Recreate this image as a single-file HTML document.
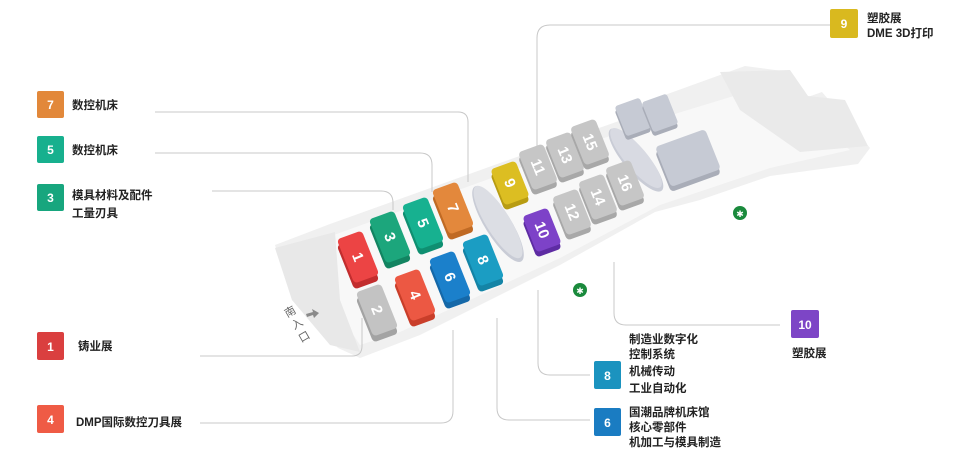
<!DOCTYPE html>
<html><head><meta charset="utf-8"><style>
html,body{margin:0;padding:0;background:#fff;}
svg{display:block;}
.t{font-family:"Liberation Sans","Noto Sans CJK SC",sans-serif;font-weight:bold;font-size:11.5px;fill:#222;}
.n{font-family:"Liberation Sans",sans-serif;font-weight:bold;font-size:12px;fill:#fff;text-anchor:middle;}
.bn{font-family:"Liberation Sans",sans-serif;font-weight:bold;font-size:15px;fill:#fff;text-anchor:middle;}
.ln{fill:none;stroke:#c8c8c8;stroke-width:1;}
</style></head><body>
<svg width="960" height="467" viewBox="0 0 960 467" xmlns="http://www.w3.org/2000/svg">
<rect width="960" height="467" fill="#fff"/>
<!-- floor -->
<path d="M275,245 L330,224 L500,163 L650,110 L662,96 L745,66 L790,72 L805,98 L822,92 L870,148 L858,164 L770,176 L700,200 L655,212 L560,265 L470,310 L420,335 L360,358 L338,348 L292,300 Z" fill="#f0f0f0"/>
<path d="M320,240 L500,175 L655,120 L760,88 L800,110 L850,150 L770,168 L660,205 L560,258 L470,300 L400,332 L360,345 L330,300 Z" fill="#f8f8f8"/>
<path d="M720,72 L790,70 L808,96 L845,100 L868,146 L800,152 L740,110 Z" fill="#eaeaea"/>
<path d="M275,248 L335,232 L340,300 L360,352 L330,345 L292,300 Z" fill="#e8e8e8"/>
<!-- connectors -->
<path class="ln" d="M155,112 H458 Q468,112 468,122 V182"/>
<path class="ln" d="M155,153 H420 Q432,153 432,165 V192"/>
<path class="ln" d="M212,191 H381 Q393,191 393,203 V210"/>
<path class="ln" d="M200,356 H352 Q362,356 362,346 V318"/>
<path class="ln" d="M200,423 H441 Q453,423 453,411 V330"/>
<path class="ln" d="M590,375 H550 Q538,375 538,363 V290"/>
<path class="ln" d="M590,420 H509 Q497,420 497,408 V318"/>
<path class="ln" d="M780,325 H626 Q614,325 614,313 V262"/>
<path class="ln" d="M830,25 H550 Q537,25 537,38 V148"/>
<!-- ellipses -->
<ellipse cx="498" cy="224" rx="13" ry="44" transform="rotate(-32 498 224)" fill="#c9ccd6"/>
<ellipse cx="498" cy="222" rx="12" ry="42" transform="rotate(-32 498 222)" fill="#dcdee4"/>
<ellipse cx="636" cy="160" rx="12" ry="40" transform="rotate(-40 636 160)" fill="#c9ccd6"/>
<ellipse cx="636" cy="158" rx="11" ry="38" transform="rotate(-40 636 158)" fill="#d8dae2"/>
<!-- upper right gray blocks -->
<g transform="matrix(0.893,-0.321,0.4,1,633,121)"><rect x="-14" y="-15" width="28" height="30" rx="3" fill="#a9adb8"/></g>
<g transform="matrix(0.893,-0.321,0.4,1,633,117)"><rect x="-14" y="-15" width="28" height="30" rx="3" fill="#c6cad4"/></g>
<g transform="matrix(0.893,-0.321,0.4,1,660,117)"><rect x="-14" y="-15" width="28" height="30" rx="3" fill="#a9adb8"/></g>
<g transform="matrix(0.893,-0.321,0.4,1,660,113)"><rect x="-14" y="-15" width="28" height="30" rx="3" fill="#c6cad4"/></g>
<g transform="matrix(0.893,-0.321,0.4,1,688,163)"><rect x="-28" y="-20" width="56" height="40" rx="4" fill="#a9adb8"/></g>
<g transform="matrix(0.893,-0.321,0.4,1,688,158)"><rect x="-28" y="-20" width="56" height="40" rx="4" fill="#c6cad4"/></g>
<!-- blocks -->
<g transform="matrix(0.893,-0.321,0.4,1,358,263)"><rect x="-14" y="-22" width="28" height="44" rx="4" fill="#c22d2e"/></g>
<g transform="matrix(0.893,-0.321,0.4,1,358,257)"><rect x="-14" y="-22" width="28" height="44" rx="4" fill="#ec4444"/></g>
<g transform="matrix(0.893,-0.321,0.4,1,390,243)"><rect x="-14" y="-22" width="28" height="44" rx="4" fill="#128461"/></g>
<g transform="matrix(0.893,-0.321,0.4,1,390,237)"><rect x="-14" y="-22" width="28" height="44" rx="4" fill="#1ca67c"/></g>
<g transform="matrix(0.893,-0.321,0.4,1,423,229)"><rect x="-14" y="-22" width="28" height="44" rx="4" fill="#0f8f71"/></g>
<g transform="matrix(0.893,-0.321,0.4,1,423,223)"><rect x="-14" y="-22" width="28" height="44" rx="4" fill="#17b190"/></g>
<g transform="matrix(0.893,-0.321,0.4,1,453,214)"><rect x="-14" y="-22" width="28" height="44" rx="4" fill="#c06a24"/></g>
<g transform="matrix(0.893,-0.321,0.4,1,453,208)"><rect x="-14" y="-22" width="28" height="44" rx="4" fill="#e3883c"/></g>
<g transform="matrix(0.893,-0.321,0.4,1,377,316)"><rect x="-14" y="-22" width="28" height="44" rx="4" fill="#a3a3a3"/></g>
<g transform="matrix(0.893,-0.321,0.4,1,377,310)"><rect x="-14" y="-22" width="28" height="44" rx="4" fill="#c3c3c3"/></g>
<g transform="matrix(0.893,-0.321,0.4,1,415,301)"><rect x="-14" y="-22" width="28" height="44" rx="4" fill="#c93e2a"/></g>
<g transform="matrix(0.893,-0.321,0.4,1,415,295)"><rect x="-14" y="-22" width="28" height="44" rx="4" fill="#ec5843"/></g>
<g transform="matrix(0.893,-0.321,0.4,1,450,283)"><rect x="-14" y="-22" width="28" height="44" rx="4" fill="#1568a8"/></g>
<g transform="matrix(0.893,-0.321,0.4,1,450,277)"><rect x="-14" y="-22" width="28" height="44" rx="4" fill="#1b80cb"/></g>
<g transform="matrix(0.893,-0.321,0.4,1,483,266)"><rect x="-14" y="-22" width="28" height="44" rx="4" fill="#1484a6"/></g>
<g transform="matrix(0.893,-0.321,0.4,1,483,260)"><rect x="-14" y="-22" width="28" height="44" rx="4" fill="#1b9dc3"/></g>
<g transform="matrix(0.893,-0.321,0.4,1,510,188)"><rect x="-14" y="-18" width="28" height="36" rx="4" fill="#b89c12"/></g>
<g transform="matrix(0.893,-0.321,0.4,1,510,183)"><rect x="-14" y="-18" width="28" height="36" rx="4" fill="#dcbe22"/></g>
<g transform="matrix(0.893,-0.321,0.4,1,542,235)"><rect x="-14" y="-18" width="28" height="36" rx="4" fill="#5e2ca3"/></g>
<g transform="matrix(0.893,-0.321,0.4,1,542,230)"><rect x="-14" y="-18" width="28" height="36" rx="4" fill="#7d42c8"/></g>
<g transform="matrix(0.893,-0.321,0.4,1,538,172)"><rect x="-14" y="-19" width="28" height="38" rx="4" fill="#a8a8a8"/></g>
<g transform="matrix(0.893,-0.321,0.4,1,538,167)"><rect x="-14" y="-19" width="28" height="38" rx="4" fill="#c6c6c6"/></g>
<g transform="matrix(0.893,-0.321,0.4,1,565,160)"><rect x="-14" y="-19" width="28" height="38" rx="4" fill="#a8a8a8"/></g>
<g transform="matrix(0.893,-0.321,0.4,1,565,155)"><rect x="-14" y="-19" width="28" height="38" rx="4" fill="#c6c6c6"/></g>
<g transform="matrix(0.893,-0.321,0.4,1,590,147)"><rect x="-14" y="-19" width="28" height="38" rx="4" fill="#a8a8a8"/></g>
<g transform="matrix(0.893,-0.321,0.4,1,590,142)"><rect x="-14" y="-19" width="28" height="38" rx="4" fill="#c6c6c6"/></g>
<g transform="matrix(0.893,-0.321,0.4,1,572,217)"><rect x="-14" y="-19" width="28" height="38" rx="4" fill="#a8a8a8"/></g>
<g transform="matrix(0.893,-0.321,0.4,1,572,212)"><rect x="-14" y="-19" width="28" height="38" rx="4" fill="#c6c6c6"/></g>
<g transform="matrix(0.893,-0.321,0.4,1,598,202)"><rect x="-14" y="-19" width="28" height="38" rx="4" fill="#a8a8a8"/></g>
<g transform="matrix(0.893,-0.321,0.4,1,598,197)"><rect x="-14" y="-19" width="28" height="38" rx="4" fill="#c6c6c6"/></g>
<g transform="matrix(0.893,-0.321,0.4,1,625,188)"><rect x="-14" y="-19" width="28" height="38" rx="4" fill="#a8a8a8"/></g>
<g transform="matrix(0.893,-0.321,0.4,1,625,183)"><rect x="-14" y="-19" width="28" height="38" rx="4" fill="#c6c6c6"/></g>
<!-- block numbers -->
<text class="bn" transform="translate(358,257) rotate(68)" dy="5">1</text>
<text class="bn" transform="translate(390,237) rotate(68)" dy="5">3</text>
<text class="bn" transform="translate(423,223) rotate(68)" dy="5">5</text>
<text class="bn" transform="translate(453,208) rotate(68)" dy="5">7</text>
<text class="bn" transform="translate(377,310) rotate(68)" dy="5">2</text>
<text class="bn" transform="translate(415,295) rotate(68)" dy="5">4</text>
<text class="bn" transform="translate(450,277) rotate(68)" dy="5">6</text>
<text class="bn" transform="translate(483,260) rotate(68)" dy="5">8</text>
<text class="bn" transform="translate(510,183) rotate(68)" dy="5">9</text>
<text class="bn" transform="translate(542,230) rotate(68)" dy="5">10</text>
<text class="bn" transform="translate(538,167) rotate(68)" dy="5">11</text>
<text class="bn" transform="translate(565,155) rotate(68)" dy="5">13</text>
<text class="bn" transform="translate(590,142) rotate(68)" dy="5">15</text>
<text class="bn" transform="translate(572,212) rotate(68)" dy="5">12</text>
<text class="bn" transform="translate(598,197) rotate(68)" dy="5">14</text>
<text class="bn" transform="translate(625,183) rotate(68)" dy="5">16</text>
<!-- green icons -->
<circle cx="740" cy="213" r="7" fill="#1a8a3c"/><text x="740" y="217" font-size="9" fill="#fff" text-anchor="middle" font-family="DejaVu Sans">✱</text>
<circle cx="580" cy="290" r="7" fill="#1a8a3c"/><text x="580" y="294" font-size="9" fill="#fff" text-anchor="middle" font-family="DejaVu Sans">✱</text>
<!-- south entrance -->
<g font-family="Liberation Sans,Noto Sans CJK SC,sans-serif" font-size="11" fill="#666">
<text transform="translate(292,315) rotate(-30)" text-anchor="middle">南</text>
<text transform="translate(299,327) rotate(-30)" text-anchor="middle">入</text>
<text transform="translate(306,340) rotate(-30)" text-anchor="middle">口</text>
</g>
<path d="M306,314 L313,312 L312,309 L319,313 L314,318 L313,315 L307,317 Z" fill="#8a8a8a"/>
<!-- legends -->
<rect x="37" y="91" width="27" height="27" rx="2" fill="#e2883a"/><text class="n" x="50.5" y="109">7</text>
<text class="t" x="72" y="109">数控机床</text>
<rect x="37" y="136" width="27" height="27" rx="2" fill="#17b08e"/><text class="n" x="50.5" y="154">5</text>
<text class="t" x="72" y="154">数控机床</text>
<rect x="37" y="184" width="27" height="27" rx="2" fill="#17a67e"/><text class="n" x="50.5" y="202">3</text>
<text class="t" x="72" y="199">模具材料及配件</text>
<text class="t" x="72" y="217">工量刃具</text>
<rect x="37" y="332" width="27" height="28" rx="2" fill="#da3f3f"/><text class="n" x="50.5" y="351">1</text>
<text class="t" x="78" y="350">铸业展</text>
<rect x="37" y="405" width="27" height="28" rx="2" fill="#ef5b45"/><text class="n" x="50.5" y="424">4</text>
<text class="t" x="76" y="426">DMP国际数控刀具展</text>
<rect x="594" y="361" width="27" height="28" rx="2" fill="#1b93bf"/><text class="n" x="607.5" y="380">8</text>
<text class="t" x="629" y="343">制造业数字化</text>
<text class="t" x="629" y="358">控制系统</text>
<text class="t" x="629" y="375">机械传动</text>
<text class="t" x="629" y="392">工业自动化</text>
<rect x="594" y="408" width="27" height="28" rx="2" fill="#1a7cc2"/><text class="n" x="607.5" y="427">6</text>
<text class="t" x="629" y="416">国潮品牌机床馆</text>
<text class="t" x="629" y="431">核心零部件</text>
<text class="t" x="629" y="446">机加工与模具制造</text>
<rect x="791" y="310" width="28" height="28" rx="2" fill="#7d45c6"/><text class="n" x="805" y="329">10</text>
<text class="t" x="792" y="357">塑胶展</text>
<rect x="830" y="9" width="28" height="29" rx="2" fill="#d9b91f"/><text class="n" x="844" y="28">9</text>
<text class="t" x="867" y="22">塑胶展</text>
<text class="t" x="867" y="37">DME 3D打印</text>
</svg>
</body></html>
